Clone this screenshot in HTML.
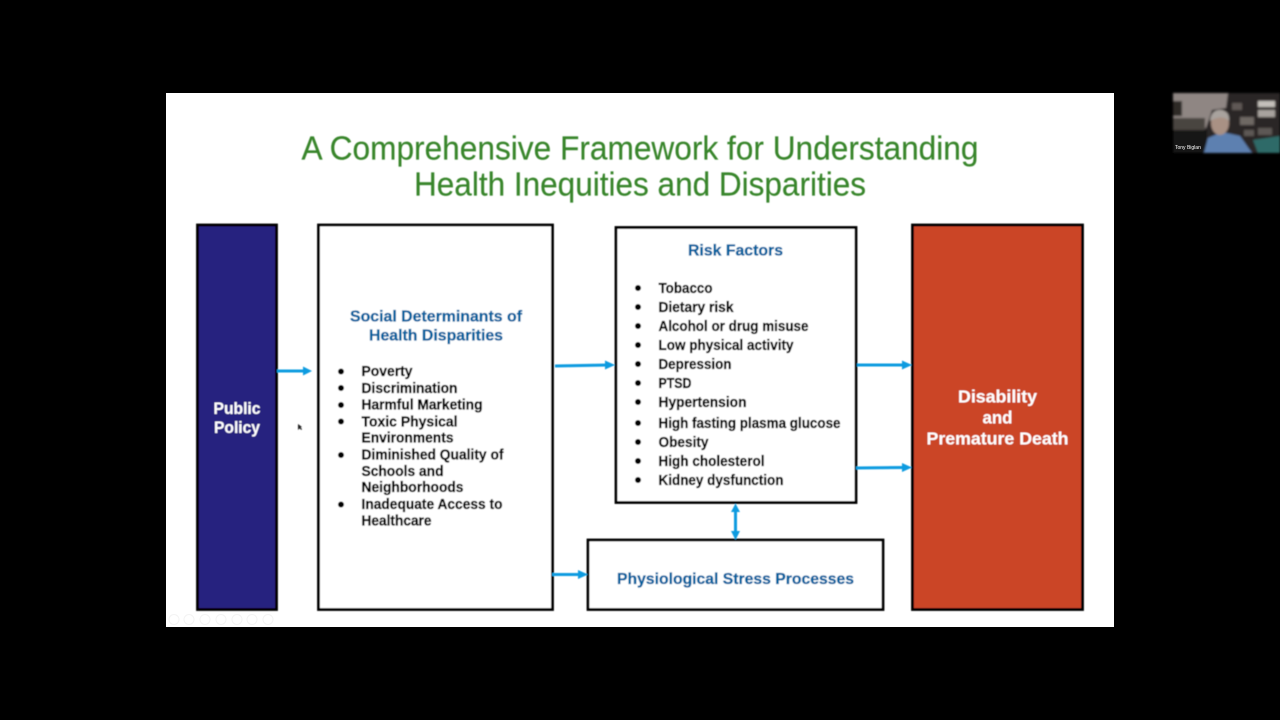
<!DOCTYPE html>
<html>
<head>
<meta charset="utf-8">
<title>A Comprehensive Framework for Understanding Health Inequities and Disparities</title>
<style>
html,body{margin:0;padding:0;background:#000;width:1280px;height:720px;overflow:hidden}
svg{display:block;font-family:"Liberation Sans",sans-serif}
.b{font-weight:700;font-size:14.500px;fill:#000;stroke:#000;stroke-width:.35px}
.r{font-weight:700;font-size:15px;fill:#000;stroke:#000;stroke-width:.35px}
.h{font-weight:700;font-size:16px;fill:#00629f;stroke:#00629f;stroke-width:.35px}
.w{font-weight:700;fill:#fff;stroke:#fff;stroke-width:.1px}
.t{font-size:33px;fill:#37852a;stroke:#37852a;stroke-width:.15px}
</style>
</head>
<body>
<svg width="1280" height="720" viewBox="0 0 1280 720" xmlns="http://www.w3.org/2000/svg">
<defs>
<filter id="bl" x="-5%" y="-5%" width="110%" height="110%"><feGaussianBlur stdDeviation="0.4"/></filter>
<filter id="bl2" x="-5%" y="-5%" width="110%" height="110%"><feGaussianBlur stdDeviation="1"/></filter>
</defs>
<rect width="1280" height="720" fill="#000"/>
<rect x="166" y="93" width="948" height="534" fill="#fff"/>

<g filter="url(#bl)">
<text class="t" x="640" y="159.500" text-anchor="middle" textLength="677" lengthAdjust="spacingAndGlyphs">A Comprehensive Framework for Understanding</text>
<text class="t" x="640" y="195.500" text-anchor="middle" textLength="452" lengthAdjust="spacingAndGlyphs">Health Inequities and Disparities</text>

<rect x="197.500" y="225" width="79" height="384.500" fill="#26217f" stroke="#000" stroke-width="2.800"/>
<rect x="318.500" y="225" width="234" height="384.500" fill="#fff" stroke="#000" stroke-width="2.800"/>
<rect x="616" y="227.500" width="240" height="275" fill="#fff" stroke="#000" stroke-width="2.800"/>
<rect x="588" y="540" width="295" height="69.500" fill="#fff" stroke="#000" stroke-width="2.800"/>
<rect x="912.500" y="225" width="170" height="384.500" fill="#cb4526" stroke="#000" stroke-width="2.800"/>

<text class="w" font-size="17" x="237" y="414" text-anchor="middle" textLength="47" lengthAdjust="spacingAndGlyphs">Public</text>
<text class="w" font-size="17" x="237" y="433" text-anchor="middle" textLength="46" lengthAdjust="spacingAndGlyphs">Policy</text>

<text class="h" x="436" y="321.500" text-anchor="middle" textLength="172" lengthAdjust="spacingAndGlyphs">Social Determinants of</text>
<text class="h" x="436" y="340.500" text-anchor="middle" textLength="134" lengthAdjust="spacingAndGlyphs">Health Disparities</text>

<g fill="#000">
<circle cx="341" cy="371.500" r="3"/><circle cx="341" cy="388" r="3"/><circle cx="341" cy="405" r="3"/><circle cx="341" cy="421.500" r="3"/><circle cx="341" cy="455" r="3"/><circle cx="341" cy="504.500" r="3"/>
</g>
<text class="b" x="361.500" y="376" textLength="51" lengthAdjust="spacingAndGlyphs">Poverty</text>
<text class="b" x="361.500" y="393" textLength="96" lengthAdjust="spacingAndGlyphs">Discrimination</text>
<text class="b" x="361.500" y="409.500" textLength="121" lengthAdjust="spacingAndGlyphs">Harmful Marketing</text>
<text class="b" x="361.500" y="426.500" textLength="96" lengthAdjust="spacingAndGlyphs">Toxic Physical</text>
<text class="b" x="361.500" y="442.500" textLength="92" lengthAdjust="spacingAndGlyphs">Environments</text>
<text class="b" x="361.500" y="459.500" textLength="142" lengthAdjust="spacingAndGlyphs">Diminished Quality of</text>
<text class="b" x="361.500" y="476" textLength="82" lengthAdjust="spacingAndGlyphs">Schools and</text>
<text class="b" x="361.500" y="492" textLength="102" lengthAdjust="spacingAndGlyphs">Neighborhoods</text>
<text class="b" x="361.500" y="509" textLength="141" lengthAdjust="spacingAndGlyphs">Inadequate Access to</text>
<text class="b" x="361.500" y="525.500" textLength="70" lengthAdjust="spacingAndGlyphs">Healthcare</text>

<text class="h" x="735.500" y="255.500" text-anchor="middle" textLength="95" lengthAdjust="spacingAndGlyphs">Risk Factors</text>

<g fill="#000">
<circle cx="638" cy="288" r="3"/><circle cx="638" cy="307" r="3"/><circle cx="638" cy="326" r="3"/><circle cx="638" cy="345" r="3"/><circle cx="638" cy="364" r="3"/><circle cx="638" cy="383" r="3"/><circle cx="638" cy="402" r="3"/><circle cx="638" cy="423" r="3"/><circle cx="638" cy="442" r="3"/><circle cx="638" cy="461" r="3"/><circle cx="638" cy="480" r="3"/>
</g>
<text class="r" x="658.500" y="293" textLength="54" lengthAdjust="spacingAndGlyphs">Tobacco</text>
<text class="r" x="658.500" y="312" textLength="75" lengthAdjust="spacingAndGlyphs">Dietary risk</text>
<text class="r" x="658.500" y="331" textLength="150" lengthAdjust="spacingAndGlyphs">Alcohol or drug misuse</text>
<text class="r" x="658.500" y="350" textLength="135" lengthAdjust="spacingAndGlyphs">Low physical activity</text>
<text class="r" x="658.500" y="369" textLength="73" lengthAdjust="spacingAndGlyphs">Depression</text>
<text class="r" x="658.500" y="388" textLength="33" lengthAdjust="spacingAndGlyphs">PTSD</text>
<text class="r" x="658.500" y="407" textLength="88" lengthAdjust="spacingAndGlyphs">Hypertension</text>
<text class="r" x="658.500" y="428" textLength="182" lengthAdjust="spacingAndGlyphs">High fasting plasma glucose</text>
<text class="r" x="658.500" y="447" textLength="50" lengthAdjust="spacingAndGlyphs">Obesity</text>
<text class="r" x="658.500" y="466" textLength="106" lengthAdjust="spacingAndGlyphs">High cholesterol</text>
<text class="r" x="658.500" y="485" textLength="125" lengthAdjust="spacingAndGlyphs">Kidney dysfunction</text>

<text class="h" x="735.500" y="584" text-anchor="middle" textLength="237" lengthAdjust="spacingAndGlyphs">Physiological Stress Processes</text>

<text class="w" font-size="17.500" x="997.500" y="402.500" text-anchor="middle" textLength="79" lengthAdjust="spacingAndGlyphs">Disability</text>
<text class="w" font-size="17.500" x="997.500" y="423.500" text-anchor="middle" textLength="30" lengthAdjust="spacingAndGlyphs">and</text>
<text class="w" font-size="17.500" x="997.500" y="444.500" text-anchor="middle" textLength="142" lengthAdjust="spacingAndGlyphs">Premature Death</text>

<g stroke="#0f9be0" stroke-width="3" fill="none">
<line x1="277" y1="371" x2="306" y2="371"/>
<line x1="555" y1="366" x2="608" y2="365"/>
<line x1="857" y1="365" x2="905" y2="365"/>
<line x1="856" y1="468" x2="905" y2="467.500"/>
<line x1="552" y1="574.500" x2="581" y2="574.500"/>
<line x1="735.500" y1="510" x2="735.500" y2="533"/>
</g>
<g fill="#0f9be0">
<polygon points="303,366.500 312,371 303,375.500"/>
<polygon points="605,360.500 615,365 605,369.500"/>
<polygon points="902,360.500 912,365 902,369.500"/>
<polygon points="902,463 912,467.500 902,472"/>
<polygon points="578,570 588,574.500 578,579"/>
<polygon points="735.500,503.500 740,512 731,512"/>
<polygon points="735.500,540 740,531 731,531"/>
</g>
<polygon points="298,424 298,430 299.500,428.500 301.500,430 302,429 300.500,427.500 302,427" fill="#222"/>
</g>

<g fill="none" stroke="#f3f3f3" stroke-width="1">
<circle cx="174" cy="619.500" r="5"/><circle cx="189" cy="619.500" r="5"/><circle cx="205" cy="619.500" r="5"/><circle cx="221" cy="619.500" r="5"/><circle cx="237" cy="619.500" r="5"/><circle cx="252" cy="619.500" r="5"/><circle cx="268" cy="619.500" r="5"/>
</g>

<g filter="url(#bl2)">
<rect x="1173" y="93" width="107" height="60" fill="#2b2727"/>
<polygon points="1173,93 1228,93 1226,108 1212,110 1206,128 1173,124" fill="#8f8683"/>
<rect x="1173" y="101" width="9" height="15" fill="#2e2a28"/>
<rect x="1173" y="118" width="32" height="14" fill="#4a4441"/>
<rect x="1173" y="130" width="34" height="23" fill="#171514"/>
<rect x="1232" y="103" width="10" height="7" fill="#5e5854"/>
<rect x="1258" y="101" width="17" height="6" fill="#c4c0ba"/>
<rect x="1258" y="110" width="17" height="7" fill="#a8a39e"/>
<rect x="1240" y="117" width="14" height="8" fill="#6e6763"/>
<rect x="1244" y="130" width="10" height="6" fill="#5d5855"/>
<rect x="1258" y="128" width="14" height="7" fill="#5d5855"/>
<polygon points="1253,140 1280,136 1280,153 1258,153" fill="#2f6b68"/>
<polygon points="1204,153 1208,138 1222,132 1240,136 1252,153" fill="#5d80b0"/>
<ellipse cx="1220" cy="123" rx="9" ry="12" fill="#a99184"/>
<path d="M1210,121 Q1211,109 1222,110 Q1230,112 1229,121 Q1222,114 1210,121Z" fill="#a9a39e"/>
</g>
<text x="1175" y="149" font-size="5" fill="#fff">Tony Biglan</text>
</svg>
</body>
</html>
